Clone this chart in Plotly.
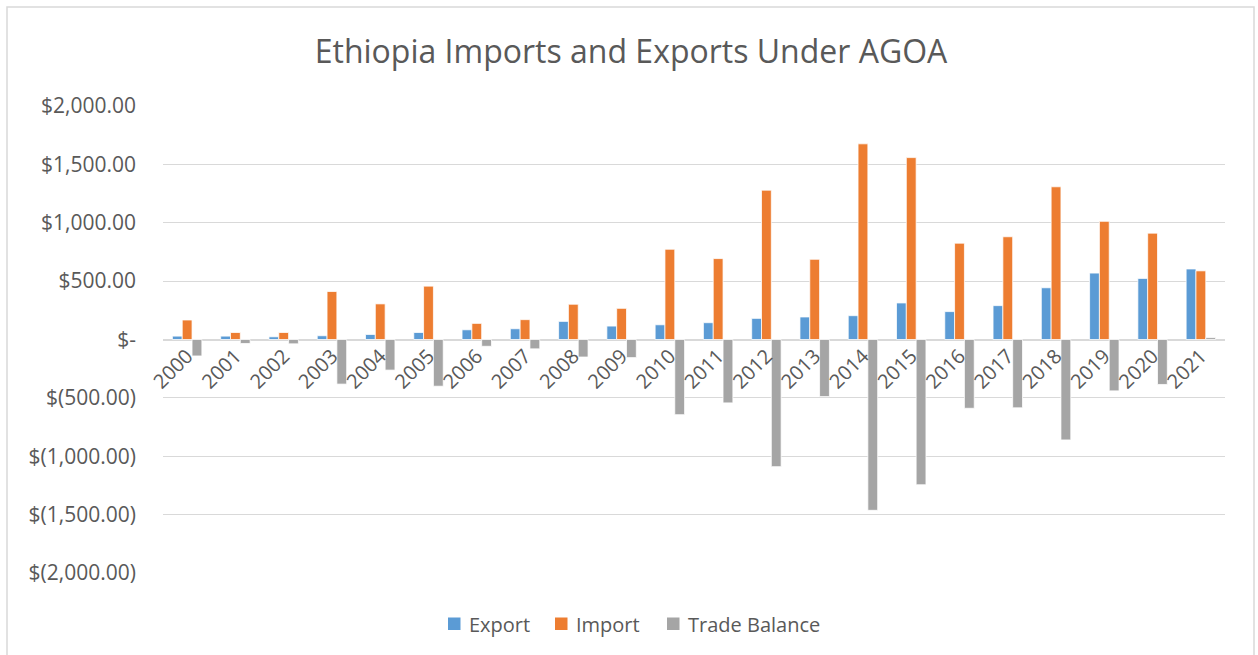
import plotly.graph_objects as go

years = [str(y) for y in range(2000, 2022)]
export = [29, 29, 23, 32, 43, 60, 83, 92, 155, 115, 126, 144, 181, 193, 204, 313,
          239, 290, 443, 569, 523, 604]
imports = [167, 60, 60, 411, 305, 457, 138, 170, 302, 267, 773, 693, 1279, 687, 1676, 1558,
           825, 880, 1308, 1012, 911, 588]
trade_balance = [-141, -34, -37, -382, -262, -400, -58, -80, -150, -155, -644, -543, -1089,
                 -489, -1463, -1244, -589, -585, -860, -440, -385, 16]

y_ticks = [2000, 1500, 1000, 500, 0, -500, -1000, -1500, -2000]
y_tick_text = ["$2,000.00", "$1,500.00", "$1,000.00", "$500.00", "$-",
               "$(500.00)", "$(1,000.00)", "$(1,500.00)", "$(2,000.00)"]

series = [("Export", export, "#5B9BD5"),
          ("Import", imports, "#ED7D31"),
          ("Trade Balance", trade_balance, "#A5A5A5")]

FONT = "Open Sans"
TEXT = "#595959"
GRID = "#D9D9D9"

fig = go.Figure()
for name, vals, color in series:
    fig.add_trace(go.Bar(x=years, y=vals, name=name, showlegend=False,
                         marker=dict(color=color, line=dict(color="white", width=0.75))))

# plot area in pixels: left 163, right 1225, top 106, bottom 573
W, H = 1258, 655
L, R, T, B = 163, 33, 106, 82
pw, ph = W - L - R, H - T - B


def px_x(x):
    return (x - L) / pw


def px_y(y):
    return (H - B - y) / ph


# legend row drawn as square swatches plus labels, centred under the chart
shapes = [dict(type="rect", xref="paper", yref="paper",
               x0=px_x(7), x1=px_x(1254), y0=px_y(675), y1=px_y(7),
               line=dict(color=GRID, width=1.5), fillcolor="rgba(0,0,0,0)", layer="below")]
annotations = []
legend_x = [448, 555, 667]
legend_y = 624
for (name, _, color), x0 in zip(series, legend_x):
    shapes.append(dict(type="rect", xref="paper", yref="paper",
                       x0=px_x(x0), x1=px_x(x0 + 12.5),
                       y0=px_y(legend_y + 6), y1=px_y(legend_y - 6.5),
                       line=dict(width=0), fillcolor=color))
    annotations.append(dict(text=name, xref="paper", yref="paper",
                            x=px_x(x0 + 19), y=px_y(legend_y), xanchor="left", yanchor="middle",
                            showarrow=False, font=dict(family=FONT, size=20, color=TEXT)))

fig.update_layout(
    width=W, height=H,
    margin=dict(l=L, r=R, t=T, b=B),
    paper_bgcolor="white", plot_bgcolor="white",
    barmode="group", bargap=0.39, bargroupgap=0,
    showlegend=False,
    title=dict(text="Ethiopia Imports and Exports Under AGOA",
               x=631 / W, xanchor="center", y=1 - 52 / H, yanchor="middle",
               font=dict(family=FONT, size=32, color=TEXT)),
    font=dict(family=FONT, color=TEXT),
    xaxis=dict(type="category", anchor="free", position=0.5, showgrid=False,
               showline=False, ticks="", tickangle=-45,
               tickfont=dict(family=FONT, size=20, color=TEXT)),
    yaxis=dict(range=[-2000, 2000], tickvals=y_ticks, ticktext=y_tick_text,
               showgrid=True, gridcolor=GRID, gridwidth=1.3,
               zeroline=True, zerolinecolor=GRID, zerolinewidth=1.5,
               ticks="", ticklabelstandoff=26,
               tickfont=dict(family=FONT, size=21, color=TEXT)),
    shapes=shapes,
    annotations=annotations,
)

fig.write_html("out.html")
